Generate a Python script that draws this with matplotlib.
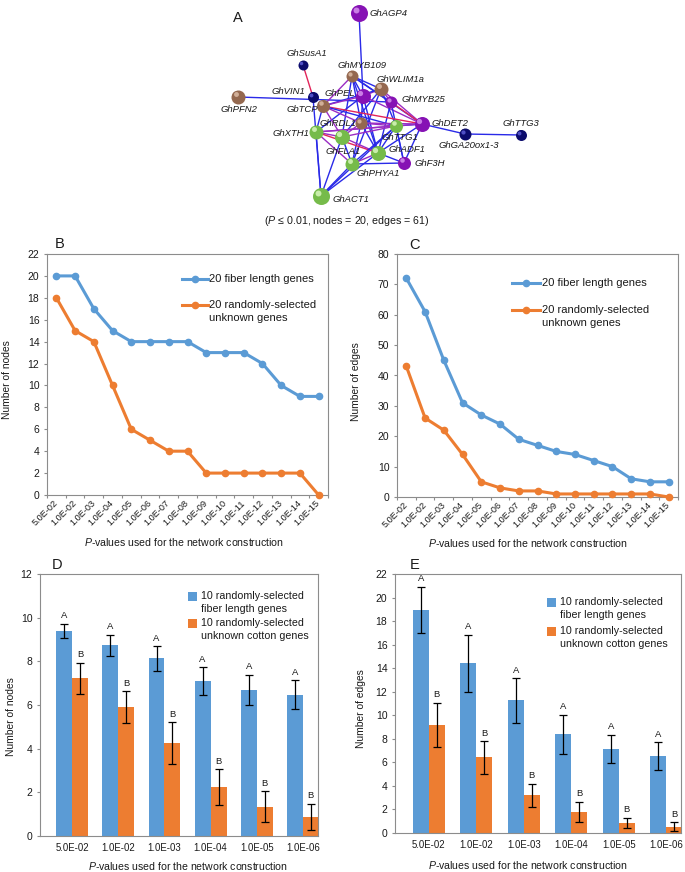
import matplotlib
matplotlib.use('Agg')
import matplotlib.pyplot as plt
import numpy as np
from matplotlib.lines import Line2D
from matplotlib.patches import Rectangle

plt.rcParams['font.family'] = ['Liberation Sans', 'DejaVu Sans']
plt.rcParams['mathtext.fontset'] = 'custom'
plt.rcParams['mathtext.rm'] = 'Liberation Sans'
plt.rcParams['mathtext.it'] = 'Liberation Sans:italic'

# ---------------- data ----------------
genes = ['GhAGP4', 'GhSusA1', 'GhMYB109', 'GhWLIM1a', 'GhPEL', 'GhMYB25', 'GhVIN1',
         'GhPFN2', 'GbTCP', 'GhRDL1', 'GhDET2', 'GhTTG1', 'GhXTH1', 'GhFLA1',
         'GhGA20ox1-3', 'GhTTG3', 'GhADF1', 'GhF3H', 'GhPHYA1', 'GhACT1']
gene_class = ['purple', 'navy', 'brown', 'brown', 'purple', 'purple', 'navy',
              'brown', 'brown', 'brown', 'purple', 'green', 'green', 'green',
              'navy', 'navy', 'green', 'purple', 'green', 'green']
net_edges = [
    ('GhAGP4', 'GhPEL', 'b'), ('GhSusA1', 'GhVIN1', 'r'), ('GhPFN2', 'GhMYB25', 'b'),
    ('GhDET2', 'GhGA20ox1-3', 'b'), ('GhGA20ox1-3', 'GhTTG3', 'b'), ('GhVIN1', 'GhACT1', 'b'),
    ('GhXTH1', 'GhACT1', 'b'), ('GhFLA1', 'GhACT1', 'b'), ('GhPHYA1', 'GhACT1', 'b'),
    ('GhADF1', 'GhACT1', 'b'), ('GhTTG1', 'GhACT1', 'b'), ('GhMYB109', 'GhPEL', 'b'),
    ('GhMYB109', 'GhWLIM1a', 'b'), ('GhMYB109', 'GhMYB25', 'b'), ('GhMYB109', 'GbTCP', 'p'),
    ('GhMYB109', 'GhRDL1', 'b'), ('GhMYB109', 'GhDET2', 'b'), ('GhMYB109', 'GhFLA1', 'b'),
    ('GhMYB109', 'GhADF1', 'b'), ('GhWLIM1a', 'GhPEL', 'p'), ('GhWLIM1a', 'GhMYB25', 'p'),
    ('GhWLIM1a', 'GbTCP', 'b'), ('GhWLIM1a', 'GhDET2', 'p'), ('GhWLIM1a', 'GhFLA1', 'b'),
    ('GhWLIM1a', 'GhPHYA1', 'b'), ('GhWLIM1a', 'GhTTG1', 'b'), ('GhPEL', 'GbTCP', 'p'),
    ('GhPEL', 'GhRDL1', 'b'), ('GhPEL', 'GhXTH1', 'b'), ('GhPEL', 'GhADF1', 'b'),
    ('GhPEL', 'GhDET2', 'p'), ('GhMYB25', 'GhDET2', 'r'), ('GhMYB25', 'GhADF1', 'b'),
    ('GhMYB25', 'GhF3H', 'b'), ('GbTCP', 'GhDET2', 'r'), ('GbTCP', 'GhRDL1', 'p'),
    ('GbTCP', 'GhXTH1', 'b'), ('GbTCP', 'GhFLA1', 'p'), ('GbTCP', 'GhTTG1', 'b'),
    ('GhRDL1', 'GhDET2', 'p'), ('GhRDL1', 'GhTTG1', 'p'), ('GhRDL1', 'GhFLA1', 'p'),
    ('GhRDL1', 'GhPHYA1', 'b'), ('GhRDL1', 'GhADF1', 'b'), ('GhDET2', 'GhTTG1', 'b'),
    ('GhDET2', 'GhADF1', 'b'), ('GhDET2', 'GhF3H', 'b'), ('GhDET2', 'GhXTH1', 'p'),
    ('GhTTG1', 'GhF3H', 'b'), ('GhTTG1', 'GhADF1', 'b'), ('GhTTG1', 'GhFLA1', 'p'),
    ('GhXTH1', 'GhFLA1', 'p'), ('GhXTH1', 'GhADF1', 'r'), ('GhXTH1', 'GhPHYA1', 'p'),
    ('GhFLA1', 'GhADF1', 'p'), ('GhFLA1', 'GhPHYA1', 'b'), ('GhADF1', 'GhPHYA1', 'p'),
    ('GhPHYA1', 'GhF3H', 'b'), ('GhADF1', 'GhF3H', 'b'), ('GhXTH1', 'GhTTG1', 'p'),
    ('GhPHYA1', 'GhTTG1', 'b'),
]

pvals_line = ['5.0E-02', '1.0E-02', '1.0E-03', '1.0E-04', '1.0E-05', '1.0E-06', '1.0E-07',
              '1.0E-08', '1.0E-09', '1.0E-10', '1.0E-11', '1.0E-12', '1.0E-13', '1.0E-14',
              '1.0E-15']
nodes_fiber = [20, 20, 17, 15, 14, 14, 14, 14, 13, 13, 13, 12, 10, 9, 9]
nodes_unknown = [18, 15, 14, 10, 6, 5, 4, 4, 2, 2, 2, 2, 2, 2, 0]
edges_fiber = [72, 61, 45, 31, 27, 24, 19, 17, 15, 14, 12, 10, 6, 5, 5]
edges_unknown = [43, 26, 22, 14, 5, 3, 2, 2, 1, 1, 1, 1, 1, 1, 0]
line_labels = ['20 fiber length genes', '20 randomly-selected\nunknown genes']

pvals_bar = ['5.0E-02', '1.0E-02', '1.0E-03', '1.0E-04', '1.0E-05', '1.0E-06']
d_fiber = [9.40, 8.73, 8.14, 7.10, 6.70, 6.47]
d_fiber_err = [0.33, 0.48, 0.56, 0.63, 0.68, 0.66]
d_unknown = [7.22, 5.91, 4.26, 2.24, 1.34, 0.87]
d_unknown_err = [0.71, 0.72, 0.95, 0.81, 0.71, 0.61]
e_fiber = [18.98, 14.42, 11.26, 8.40, 7.15, 6.53]
e_fiber_err = [1.95, 2.43, 1.90, 1.65, 1.19, 1.20]
e_unknown = [9.19, 6.42, 3.22, 1.78, 0.85, 0.54]
e_unknown_err = [1.87, 1.38, 0.97, 0.87, 0.44, 0.37]
sig_fiber = ['A'] * 6
sig_unknown = ['B'] * 6
bar_labels = ['10 randomly-selected\nfiber length genes', '10 randomly-selected\nunknown cotton genes']

# ---------------- layout / style ----------------
W, H = 685, 872
BLUE = '#5b9bd5'
ORANGE = '#ed7d31'
SPINE = '#8c8c8c'
TXT = '#1a1a1a'

# network layout (pixel space of panel A)
node_x = [359, 303, 352, 381, 363, 391, 313, 238, 323, 361, 422, 396, 316, 342, 465, 521, 378, 404, 352, 321]
node_y = [13, 65, 76, 89, 96, 102, 97, 97, 106, 123, 124, 126, 132, 137, 134, 135, 153, 163, 164, 196]
node_d = [17, 10, 12, 14, 15, 12, 11, 14, 13, 12, 15, 13, 14, 15, 12, 11, 15, 13, 14, 17]
lab_x = [370, 287, 338, 377, 325, 402, 272, 221, 287, 320, 432, 382, 273, 326, 439, 503, 389, 415, 357, 333]
lab_y = [14, 54, 65, 79, 93, 99, 92, 110, 110, 123, 123, 137, 133, 151, 146, 123, 149, 164, 174, 199]
node_col = {'green': ('#76bb4a', '#d9f7bd'), 'brown': ('#94684f', '#dcbca6'),
            'purple': ('#8612b4', '#d592ee'), 'navy': ('#0b0b6c', '#5c5cd6')}
edge_col = {'b': '#2a2ae8', 'p': '#9a2cc4', 'r': '#e2245a'}

fig = plt.figure(figsize=(W / 100, H / 100), dpi=100)


def rect(x0, y0, x1, y1):
    return [x0 / W, 1 - y1 / H, (x1 - x0) / W, (y1 - y0) / H]


# ---------------- panel A: network ----------------
axn = fig.add_axes(rect(190, 0, 550, 230))
axn.set_xlim(190, 550)
axn.set_ylim(230, 0)
axn.axis('off')
idx = {g: i for i, g in enumerate(genes)}
for a, b, t in net_edges:
    i, j = idx[a], idx[b]
    axn.plot([node_x[i], node_x[j]], [node_y[i], node_y[j]], color=edge_col[t],
             lw=1.0, zorder=1, solid_capstyle='round')
for i, g in enumerate(genes):
    base, hi = node_col[gene_class[i]]
    d = node_d[i] * 0.72
    axn.scatter([node_x[i]], [node_y[i]], s=d ** 2, color=base, zorder=2, linewidths=0)
    axn.scatter([node_x[i] - node_d[i] * 0.12], [node_y[i] - node_d[i] * 0.14],
                s=(d * 0.6) ** 2, color=base, zorder=3, linewidths=0, alpha=0.9)
    axn.scatter([node_x[i] - node_d[i] * 0.17], [node_y[i] - node_d[i] * 0.2],
                s=(d * 0.35) ** 2, color=hi, zorder=4, linewidths=0, alpha=0.85)
    axn.text(lab_x[i], lab_y[i], g, fontsize=6.8, style='italic', color=TXT,
             ha='left', va='center', zorder=5)
fig.text(238 / W, 1 - 18 / H, 'A', fontsize=10.5, ha='center', va='center', color=TXT)
fig.text(347 / W, 1 - 221 / H, r'($P$ ≤ 0.01, nodes = 20, edges = 61)', fontsize=7.7,
         ha='center', va='center', color=TXT)


def style_axes(ax):
    for s in ax.spines.values():
        s.set_color(SPINE)
        s.set_linewidth(0.8)
    ax.tick_params(axis='y', length=2.5, width=0.8, color=SPINE, labelsize=7.5,
                   labelcolor=TXT, pad=3)


def legend_lines(x0, x1, ys, labels, colors, tx, dy):
    for y, lab, c in zip(ys, labels, colors):
        fig.add_artist(Line2D([x0 / W, x1 / W], [1 - y / H, 1 - y / H], color=c, lw=2.2))
        fig.add_artist(Line2D([(x0 + x1) / 2 / W], [1 - y / H], color=c, marker='o',
                              ms=4.5, lw=0))
        for k, line in enumerate(lab.split('\n')):
            fig.text(tx / W, 1 - (y + k * dy) / H, line, fontsize=8, ha='left',
                     va='center', color=TXT)


def legend_boxes(x0, ys, labels, colors, tx, dy, size=9):
    for y, lab, c in zip(ys, labels, colors):
        fig.add_artist(Rectangle((x0 / W, 1 - (y + size / 2) / H), size / W, size / H,
                                 facecolor=c, edgecolor='none', transform=fig.transFigure))
        for k, line in enumerate(lab.split('\n')):
            fig.text(tx / W, 1 - (y + k * dy) / H, line, fontsize=7.7, ha='left',
                     va='center', color=TXT)


XLABEL = r'$P$-values used for the network construction'


# ---------------- panels B, C: line charts ----------------
def line_panel(box, blue, orange, ymax, step, ylabel, xl, yl):
    ax = fig.add_axes(rect(*box))
    style_axes(ax)
    x = np.arange(len(pvals_line))
    ax.plot(x, blue, color=BLUE, lw=2.2, marker='o', ms=4.5, zorder=3, clip_on=False)
    ax.plot(x, orange, color=ORANGE, lw=2.2, marker='o', ms=4.5, zorder=3, clip_on=False)
    ax.set_xlim(-0.5, len(x) - 0.5)
    ax.set_ylim(0, ymax)
    ax.set_yticks(np.arange(0, ymax + 1, step))
    ax.set_xticks(x)
    ax.set_xticklabels(pvals_line, rotation=45, ha='right', va='center',
                       rotation_mode='anchor', fontsize=6.6, color=TXT)
    ax.tick_params(axis='x', which='major', length=0, pad=5)
    ax.set_xticks(np.arange(-0.5, len(x), 1), minor=True)
    ax.tick_params(axis='x', which='minor', length=2.5, width=0.8, color=SPINE)
    ax.set_xlabel(XLABEL, fontsize=7.6, color=TXT)
    ax.xaxis.set_label_coords(*xl)
    ax.set_ylabel(ylabel, fontsize=7.4, color=TXT)
    ax.yaxis.set_label_coords(*yl)
    return ax


axB = line_panel((47, 254, 328, 495), nodes_fiber, nodes_unknown, 22, 2, 'Number of nodes',
                 (0.4875, -0.172), (-0.124, 0.481))
axC = line_panel((397, 254, 678, 497), edges_fiber, edges_unknown, 80, 10, 'Number of edges',
                 (0.466, -0.163), (-0.128, 0.477))
legend_lines(182, 208, [279, 305], line_labels, [BLUE, ORANGE], 209, 13)
legend_lines(512, 540, [283, 310], line_labels, [BLUE, ORANGE], 542, 13)
fig.text(60 / W, 1 - 244 / H, 'B', fontsize=10.5, ha='center', va='center', color=TXT)
fig.text(415 / W, 1 - 245 / H, 'C', fontsize=10.5, ha='center', va='center', color=TXT)


# ---------------- panels D, E: bar charts ----------------
def bar_panel(box, fm, fe, um, ue, ymax, ylabel, xl, yl, xlim, w):
    ax = fig.add_axes(rect(*box))
    style_axes(ax)
    x = np.arange(len(pvals_bar))
    ax.bar(x - w / 2, fm, width=w, color=BLUE, zorder=2)
    ax.bar(x + w / 2, um, width=w, color=ORANGE, zorder=2)
    ax.errorbar(x - w / 2, fm, yerr=fe, fmt='none', ecolor='black', elinewidth=0.9,
                capsize=3, capthick=0.9, zorder=3)
    ax.errorbar(x + w / 2, um, yerr=ue, fmt='none', ecolor='black', elinewidth=0.9,
                capsize=3, capthick=0.9, zorder=3)
    for xi, m, e, s in zip(x - w / 2, fm, fe, sig_fiber):
        ax.annotate(s, (xi, m + e), xytext=(0, 2.5), textcoords='offset points',
                    ha='center', va='bottom', fontsize=6.8, color=TXT)
    for xi, m, e, s in zip(x + w / 2, um, ue, sig_unknown):
        ax.annotate(s, (xi, m + e), xytext=(0, 2.5), textcoords='offset points',
                    ha='center', va='bottom', fontsize=6.8, color=TXT)
    ax.set_xlim(*xlim)
    ax.set_ylim(0, ymax)
    ax.set_yticks(np.arange(0, ymax + 1, 2))
    ax.set_xticks(x)
    ax.set_xticklabels(pvals_bar, fontsize=6.9, color=TXT)
    ax.tick_params(axis='x', length=0, pad=5)
    ax.set_xlabel(XLABEL, fontsize=7.6, color=TXT)
    ax.xaxis.set_label_coords(*xl)
    ax.set_ylabel(ylabel, fontsize=7.4, color=TXT)
    ax.yaxis.set_label_coords(*yl)
    return ax


axD = bar_panel((40, 574, 318, 836), d_fiber, d_fiber_err, d_unknown, d_unknown_err, 12,
                'Number of nodes', (0.532, -0.090), (-0.086, 0.454), (-0.7, 5.33), 0.346)
axE = bar_panel((395, 574, 681, 833), e_fiber, e_fiber_err, e_unknown, e_unknown_err, 22,
                'Number of edges', (0.465, -0.102), (-0.101, 0.479), (-0.71, 5.31), 0.336)
legend_boxes(188, [596, 623], bar_labels, [BLUE, ORANGE], 201, 13)
legend_boxes(547, [602, 631], bar_labels, [BLUE, ORANGE], 560, 12.5)
fig.text(57 / W, 1 - 565 / H, 'D', fontsize=10.5, ha='center', va='center', color=TXT)
fig.text(415 / W, 1 - 565 / H, 'E', fontsize=10.5, ha='center', va='center', color=TXT)

fig.savefig('out.png', dpi=100)
